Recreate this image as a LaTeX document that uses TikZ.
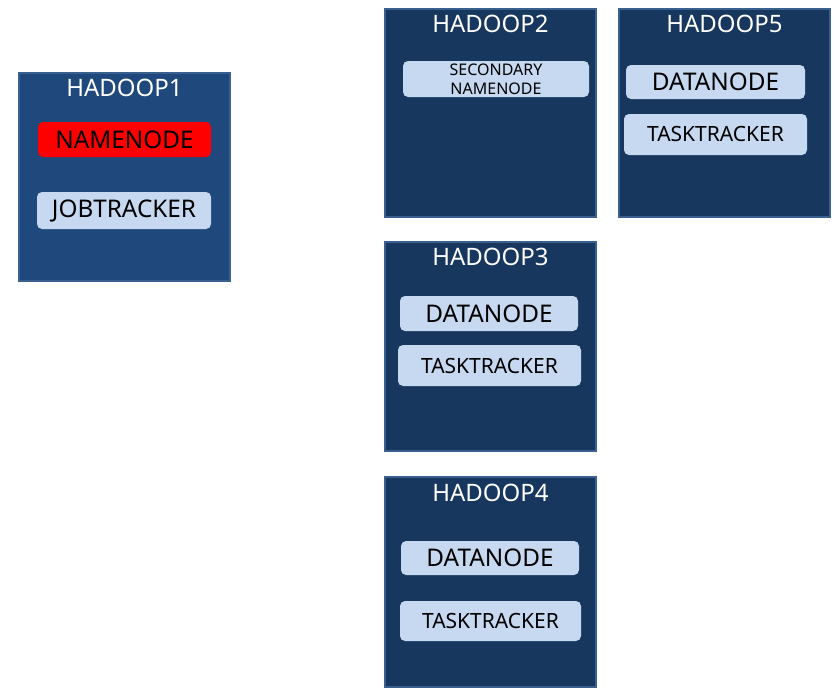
\documentclass[tikz,border=0pt]{standalone}
\usepackage{fontspec}
\setmainfont{Noto Sans}
\definecolor{hostdark}{HTML}{17375E}
\definecolor{hostmid}{HTML}{1F497D}
\definecolor{hostborder}{HTML}{3A6090}
\definecolor{svc}{HTML}{C6D9F1}
\begin{document}
\begin{tikzpicture}[x=1pt,y=-1pt,
  host/.style={draw=hostborder, line width=2.5pt, fill=hostdark, inner sep=0pt, minimum width=211pt},
  title/.style={text=white, font=\fontsize{24}{28}\selectfont, inner sep=0pt, anchor=center},
  svcbox/.style={fill=svc, rounded corners=5pt, inner sep=0pt, text=black, font=\fontsize{21}{25}\selectfont},
  bigsvc/.style={svcbox, font=\fontsize{24.3}{28}\selectfont},
  smallsvc/.style={svcbox, align=center, font=\fontsize{16}{19}\selectfont}]
\useasboundingbox (0,0) rectangle (835,696);
% hosts
\node[host, fill=hostmid, minimum height=208pt] (h1) at (124.5,177) {};
\node[host, minimum height=208pt] (h2) at (490.5,113) {};
\node[host, minimum height=208pt] (h5) at (724.5,113) {};
\node[host, minimum height=209pt] (h3) at (490.5,346.5) {};
\node[host, minimum height=210pt] (h4) at (490.5,582) {};
% titles
\node[title] (t1) at (124.5,88) {HADOOP1};
\node[title] (t2) at (490.5,24) {HADOOP2};
\node[title] (t5) at (724.5,24) {HADOOP5};
\node[title] (t3) at (490.5,257) {HADOOP3};
\node[title] (t4) at (490.5,493) {HADOOP4};
% services
\node[bigsvc, fill=red, minimum width=173pt, minimum height=35pt] (nn) at (124.5,139.5) {NAMENODE};
\node[bigsvc, minimum width=174pt, minimum height=37pt] (jt) at (124,210.5) {JOBTRACKER};
\node[smallsvc, minimum width=186pt, minimum height=36pt] (snn) at (496,79) {SECONDARY\\NAMENODE};
\node[bigsvc, minimum width=179pt, minimum height=34pt] (dn5) at (715.5,82) {DATANODE};
\node[svcbox, minimum width=183pt, minimum height=41pt] (tt5) at (715.5,134.5) {TASKTRACKER};
\node[bigsvc, minimum width=178pt, minimum height=35pt] (dn3) at (489,313.5) {DATANODE};
\node[svcbox, minimum width=183pt, minimum height=41pt] (tt3) at (489.5,365.5) {TASKTRACKER};
\node[bigsvc, minimum width=178pt, minimum height=34pt] (dn4) at (490,558) {DATANODE};
\node[svcbox, minimum width=181pt, minimum height=40pt] (tt4) at (490.5,621) {TASKTRACKER};
\end{tikzpicture}
\end{document}
